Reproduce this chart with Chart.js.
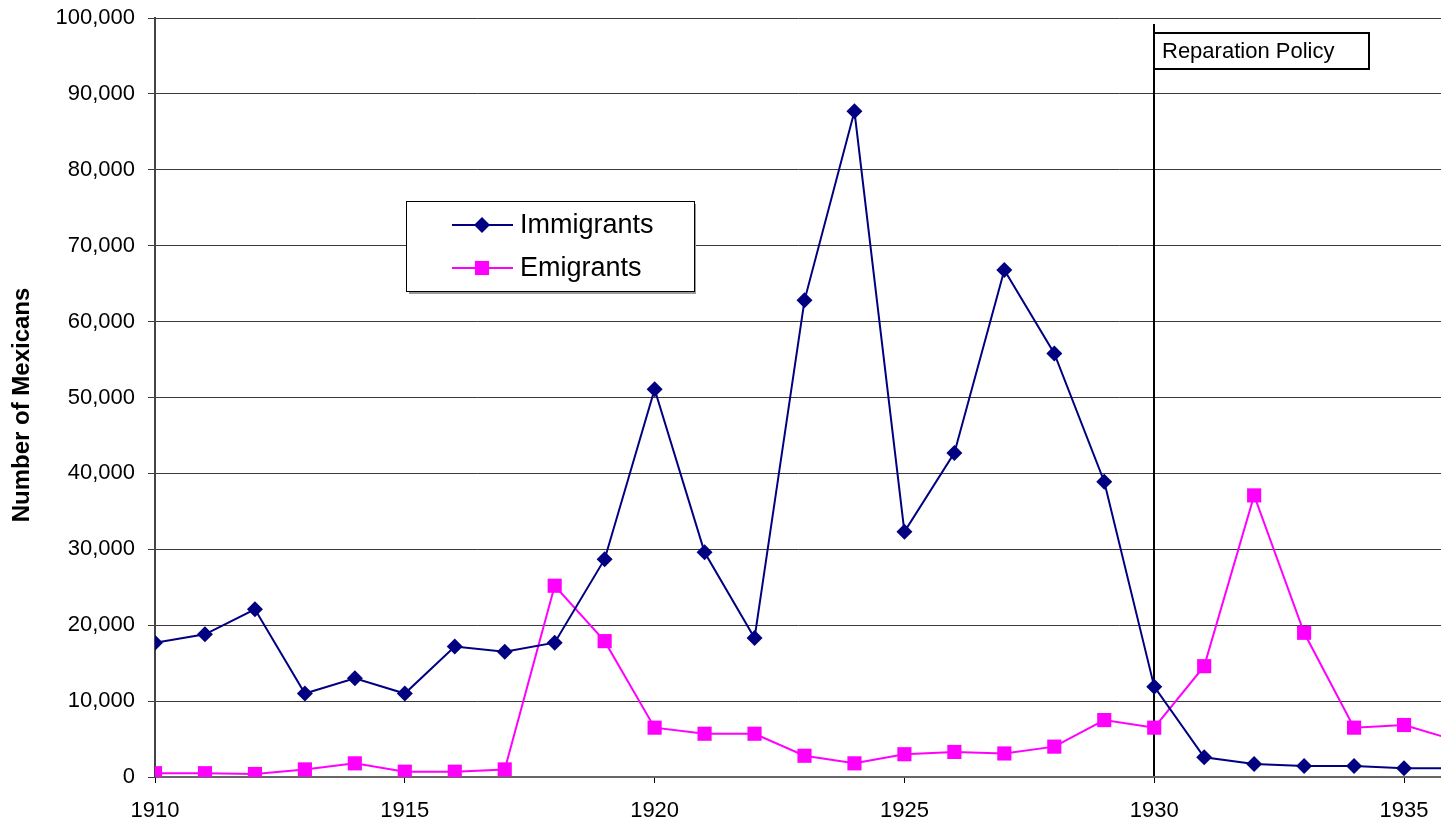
<!DOCTYPE html>
<html><head><meta charset="utf-8">
<script src="https://cdn.jsdelivr.net/npm/chart.js@4/dist/chart.umd.min.js"></script>
<style>html,body{margin:0;padding:0;background:#fff;overflow:hidden}canvas{display:block}</style>
</head><body>
<canvas id="c" width="1441" height="827"></canvas>
<script>
const years = [1910,1911,1912,1913,1914,1915,1916,1917,1918,1919,1920,1921,1922,1923,1924,1925,1926,1927,1928,1929,1930,1931,1932,1933,1934,1935,1936];
const immigrants = [17700,18800,22100,11000,13000,11000,17200,16500,17700,28700,51100,29600,18300,62800,87700,32300,42700,66800,55800,38900,11900,2600,1700,1450,1450,1150,1150];
const emigrants = [500,500,400,1000,1800,700,700,1000,25200,17900,6500,5700,5700,2800,1800,3000,3300,3100,4000,7500,6500,14600,37100,19000,6500,6850,4900];
const seriesNames = ['Immigrants','Emigrants'];
const yAxisTitle = 'Number of Mexicans';
const policyYear = 1930;
const policyLabel = 'Reparation Policy';
const xMin = 1910, xMax = 1935.74, xStep = 5;
const yMin = 0, yMax = 100000, yStep = 10000;

const FONT = '"Liberation Sans", Arial, sans-serif';

const policyPlugin = {
  id: 'policy',
  beforeDatasetsDraw(chart) {
    const ctx = chart.ctx, x = Math.round(chart.scales.x.getPixelForValue(policyYear));
    ctx.save();
    ctx.strokeStyle = '#000'; ctx.lineWidth = 2;
    ctx.beginPath(); ctx.moveTo(x, 24); ctx.lineTo(x, chart.chartArea.bottom - 1); ctx.stroke();
    ctx.restore();
  },
  afterDraw(chart) {
    const ctx = chart.ctx, x = Math.round(chart.scales.x.getPixelForValue(policyYear));
    ctx.save();
    ctx.fillStyle = '#fff'; ctx.strokeStyle = '#000'; ctx.lineWidth = 2;
    ctx.fillRect(x, 33, 215, 36); ctx.strokeRect(x, 33, 215, 36);
    ctx.fillStyle = '#000'; ctx.font = '22px ' + FONT; ctx.textBaseline = 'middle'; ctx.textAlign = 'left';
    ctx.fillText(policyLabel, x + 8, 51.5);
    ctx.restore();
  }
};

const yTitlePlugin = {
  id: 'yTitle',
  afterDraw(chart) {
    const ctx = chart.ctx;
    ctx.save();
    ctx.translate(22, 405);
    ctx.rotate(-Math.PI / 2);
    ctx.fillStyle = '#000'; ctx.font = 'bold 24px ' + FONT; ctx.textAlign = 'center'; ctx.textBaseline = 'middle';
    ctx.fillText(yAxisTitle, 0, 0);
    ctx.restore();
  }
};

function drawMarker(ctx, style, x, y, r, color) {
  ctx.fillStyle = color;
  ctx.beginPath();
  if (style === 'rectRot') {
    ctx.moveTo(x, y - r); ctx.lineTo(x + r, y); ctx.lineTo(x, y + r); ctx.lineTo(x - r, y);
  } else {
    const h = r * Math.SQRT1_2;
    ctx.rect(x - h, y - h, 2 * h, 2 * h);
  }
  ctx.closePath(); ctx.fill();
}

const legendPlugin = {
  id: 'boxLegend',
  afterDraw(chart) {
    const ctx = chart.ctx;
    ctx.save();
    ctx.fillStyle = '#9a9a9a';
    ctx.fillRect(409, 204, 287, 90);
    ctx.fillStyle = '#fff';
    ctx.fillRect(406, 201, 288, 90);
    ctx.strokeStyle = '#000'; ctx.lineWidth = 1;
    ctx.strokeRect(406.5, 201.5, 288, 90);
    chart.data.datasets.forEach((ds, i) => {
      const y = 225 + i * 43;
      ctx.strokeStyle = ds.borderColor; ctx.lineWidth = 2;
      ctx.beginPath(); ctx.moveTo(452, y); ctx.lineTo(513, y); ctx.stroke();
      drawMarker(ctx, ds.pointStyle, 482, y, ds.pointRadius, ds.pointBackgroundColor);
      ctx.fillStyle = '#000'; ctx.font = '27px ' + FONT; ctx.textBaseline = 'middle'; ctx.textAlign = 'left';
      ctx.fillText(ds.label, 520, y + 1);
    });
    ctx.restore();
  }
};

new Chart(document.getElementById('c'), {
  type: 'line',
  data: {
    datasets: [
      { label: seriesNames[0], data: years.map((y, i) => ({x: y, y: immigrants[i]})),
        borderColor: '#000080', backgroundColor: '#000080', pointBackgroundColor: '#000080', pointBorderColor: '#000080',
        borderWidth: 2, pointStyle: 'rectRot', pointRadius: 8, pointBorderWidth: 0, tension: 0 },
      { label: seriesNames[1], data: years.map((y, i) => ({x: y, y: emigrants[i]})),
        borderColor: '#FF00FF', backgroundColor: '#FF00FF', pointBackgroundColor: '#FF00FF', pointBorderColor: '#FF00FF',
        borderWidth: 2, pointStyle: 'rect', pointRadius: 10, pointBorderWidth: 0, tension: 0 }
    ]
  },
  options: {
    responsive: false, animation: false, devicePixelRatio: 1,
    layout: { autoPadding: false, padding: { top: 18, right: 0, left: 0, bottom: 0 } },
    plugins: { legend: { display: false }, title: { display: false }, tooltip: { enabled: false } },
    scales: {
      x: {
        type: 'linear', min: xMin, max: xMax,
        ticks: { stepSize: xStep, includeBounds: false, color: '#000', font: { family: FONT, size: 22 }, padding: 15,
                 maxRotation: 0, autoSkip: false, callback: v => String(v) },
        grid: { drawOnChartArea: false, drawTicks: true, tickLength: 6, color: '#000', lineWidth: 1 },
        border: { display: true, color: '#666', width: 2 },
        afterFit(s) { s.height = 50; s.paddingLeft = 0; s.paddingRight = 0; }
      },
      y: {
        min: yMin, max: yMax,
        ticks: { stepSize: yStep, color: '#000', font: { family: FONT, size: 22 }, padding: 13,
                 callback: v => v.toLocaleString('en-US') },
        grid: { color: '#3a3a3a', lineWidth: 1, drawTicks: true, tickLength: 7 },
        border: { display: true, color: '#444', width: 2 },
        afterFit(s) { s.width = 155; s.paddingTop = 0; s.paddingBottom = 0; }
      }
    }
  },
  plugins: [policyPlugin, legendPlugin, yTitlePlugin]
});
</script>
</body></html>
